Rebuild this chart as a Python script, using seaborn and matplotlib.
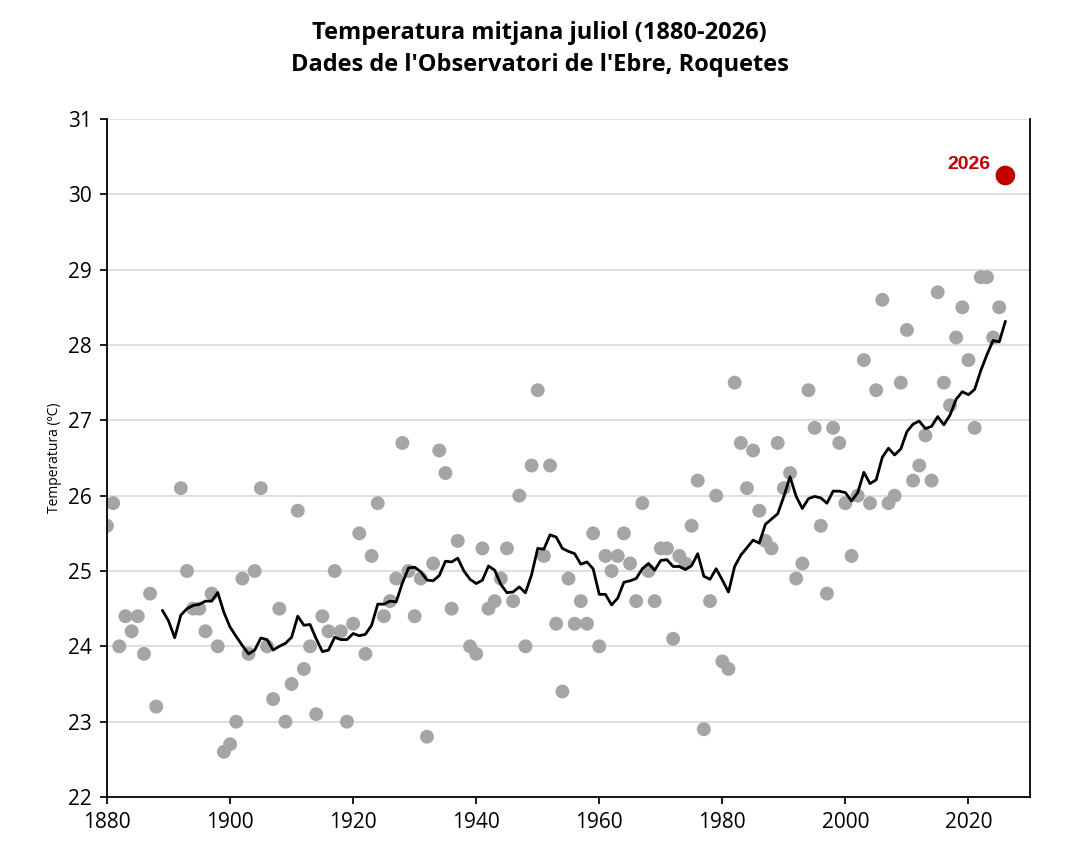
import numpy as np
import pandas as pd
import matplotlib
matplotlib.use("Agg")
import matplotlib.pyplot as plt
import seaborn as sns

years = [1880,1881,1882,1883,1884,1885,1886,1887,1888,
         1892,1893,1894,1895,1896,1897,1898,1899,1900,1901,1902,1903,1904,1905,1906,1907,1908,1909,
         1910,1911,1912,1913,1914,1915,1916,1917,1918,1919,1920,1921,1922,1923,1924,1925,1926,1927,
         1928,1929,1930,1931,1932,1933,1934,1935,1936,1937,1939,1940,1941,1942,1943,1944,1945,1946,
         1947,1948,1949,1950,1951,1952,1953,1954,1955,1956,1957,1958,1959,1960,1961,1962,1963,1964,
         1965,1966,1967,1968,1969,1970,1971,1972,1973,1974,1975,1976,1977,1978,1979,1980,1981,1982,
         1983,1984,1985,1986,1987,1988,1989,1990,1991,1992,1993,1994,1995,1996,1997,1998,1999,2000,
         2001,2002,2003,2004,2005,2006,2007,2008,2009,2010,2011,2012,2013,2014,2015,2016,2017,2018,
         2019,2020,2021,2022,2023,2024,2025]
temps = [25.6,25.9,24.0,24.4,24.2,24.4,23.9,24.7,23.2,
         26.1,25.0,24.5,24.5,24.2,24.7,24.0,22.6,22.7,23.0,24.9,23.9,25.0,26.1,24.0,23.3,24.5,23.0,
         23.5,25.8,23.7,24.0,23.1,24.4,24.2,25.0,24.2,23.0,24.3,25.5,23.9,25.2,25.9,24.4,24.6,24.9,
         26.7,25.0,24.4,24.9,22.8,25.1,26.6,26.3,24.5,25.4,24.0,23.9,25.3,24.5,24.6,24.9,25.3,24.6,
         26.0,24.0,26.4,27.4,25.2,26.4,24.3,23.4,24.9,24.3,24.6,24.3,25.5,24.0,25.2,25.0,25.2,25.5,
         25.1,24.6,25.9,25.0,24.6,25.3,25.3,24.1,25.2,25.1,25.6,26.2,22.9,24.6,26.0,23.8,23.7,27.5,
         26.7,26.1,26.6,25.8,25.4,25.3,26.7,26.1,26.3,24.9,25.1,27.4,26.9,25.6,24.7,26.9,26.7,25.9,
         25.2,26.0,27.8,25.9,27.4,28.6,25.9,26.0,27.5,28.2,26.2,26.4,26.8,26.2,28.7,27.5,27.2,28.1,
         28.5,27.8,26.9,28.9,28.9,28.1,28.5]
year_2026 = 2026
temp_2026 = 30.25

df = pd.DataFrame({"year": years, "temp": temps})
full = pd.concat([df, pd.DataFrame({"year": [year_2026], "temp": [temp_2026]})])
s = full.set_index("year")["temp"].reindex(range(1880, 2027))
ma = s.rolling(10, min_periods=1).mean()
ma_df = pd.DataFrame({"year": ma.index, "ma": ma.values})
ma_df = ma_df[ma_df.year >= 1889]

sns.set_theme(style="white")
plt.rcParams['font.family'] = ['Open Sans', 'DejaVu Sans']
fig = plt.figure(figsize=(10.79, 8.58), dpi=100)
ax = fig.add_axes([107/1079, 1-797/858, (1030-107)/1079, (797-119)/858])

for v in range(23, 32):
    ax.axhline(v, color="#d9d9d9", lw=1.2, zorder=0)
sns.scatterplot(data=df, x="year", y="temp", ax=ax, color="#a5a5a5", s=100, edgecolor="none", zorder=2)
sns.lineplot(data=ma_df, x="year", y="ma", ax=ax, color="black", lw=2, zorder=3)
ax.scatter([year_2026], [temp_2026], color="#c00000", s=200, edgecolor="none", zorder=4)
ax.text(year_2026 - 2.4, temp_2026 + 0.15, "2026", color="#c00000", fontsize=14,
        fontweight="bold", ha="right", va="center", family=["Liberation Sans", "DejaVu Sans"])

ax.set_xlim(1880, 2030)
ax.set_ylim(22, 31)
ax.set_xticks(range(1880, 2021, 20))
ax.set_yticks(range(22, 32))
ax.tick_params(axis="both", labelsize=15, length=5, direction="out", left=True, bottom=True,
               color="black", labelcolor="black", pad=6)
ax.set_xlabel("")
ax.set_ylabel("Temperatura (ºC)", fontsize=10, color="black")
for side in ["left", "bottom", "right"]:
    ax.spines[side].set_color("black")
    ax.spines[side].set_linewidth(1.3)
ax.spines["top"].set_visible(False)
fig.suptitle("Temperatura mitjana juliol (1880-2026)\nDades de l'Observatori de l'Ebre, Roquetes",
             y=0.975, fontsize=17, fontweight="bold", linespacing=1.4, color="black")
fig.savefig("out.png", dpi=100)
